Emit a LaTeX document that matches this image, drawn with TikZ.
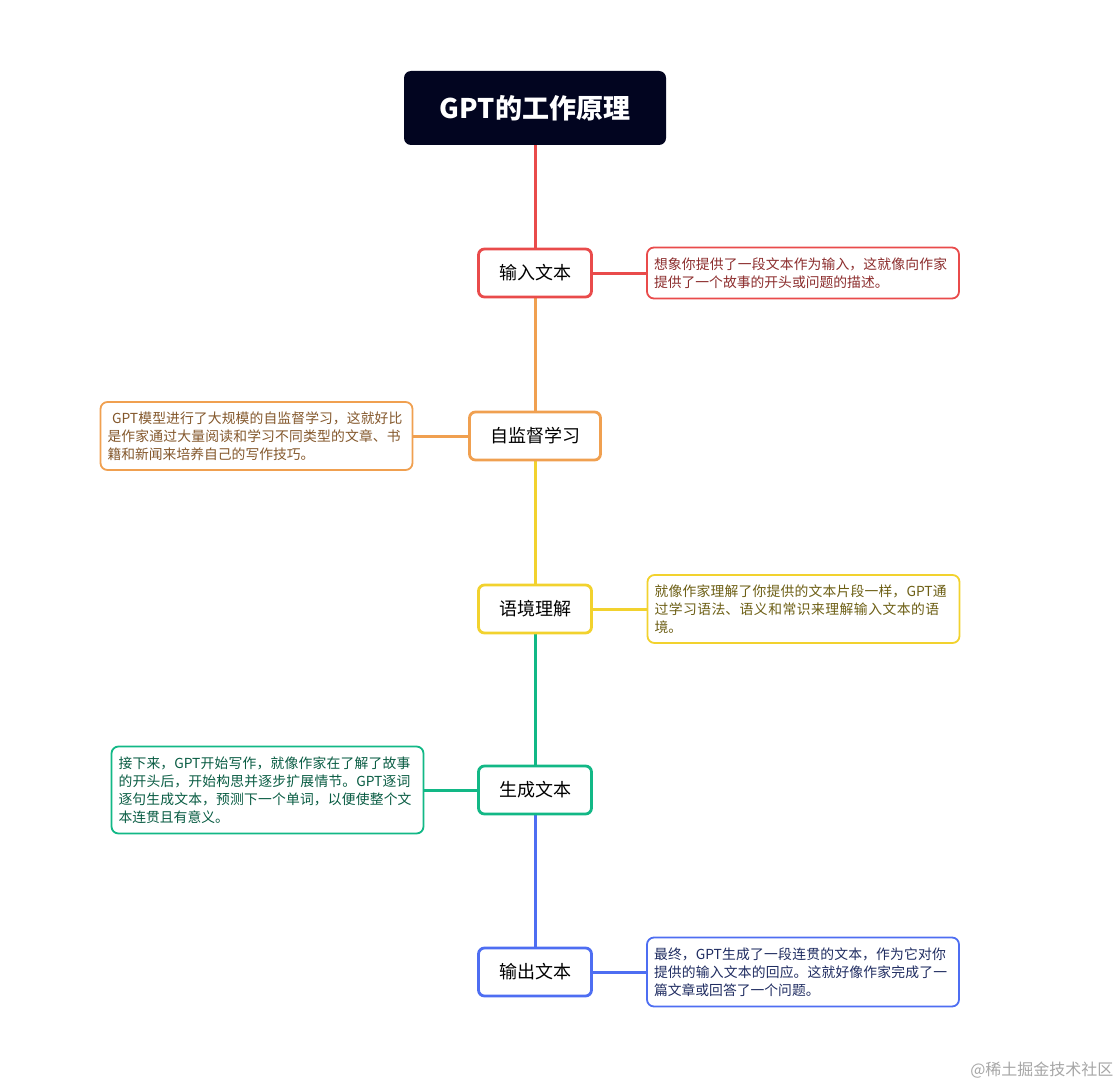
\documentclass[tikz,border=0pt]{standalone}
\usepackage{fontspec}
\setmainfont{Noto Sans CJK SC}
\XeTeXlinebreaklocale "zh"
\XeTeXlinebreakskip=0pt plus 1pt
\usetikzlibrary{backgrounds}
\begin{document}
\begin{tikzpicture}[x=1pt,y=-1pt,
 main/.style={draw=#1,line width=2.8pt,rounded corners=6pt,fill=white,minimum height=48pt,font=\fontsize{18}{20}\selectfont,text=black,inner sep=0pt},
 side/.style={draw=#1,line width=1.8pt,rounded corners=7pt,fill=white,font=\fontsize{13.8}{18}\selectfont,align=left,inner xsep=7pt,inner ysep=0pt,text width=298pt},
 ln/.style={draw=#1,line width=3pt}]
\definecolor{cr}{HTML}{E94B4B}\definecolor{co}{HTML}{F0A050}\definecolor{cy}{HTML}{F2D22E}
\definecolor{cg}{HTML}{12B886}\definecolor{cb}{HTML}{4E6EF2}\definecolor{navy}{HTML}{020520}
\useasboundingbox (0,0) rectangle (1119,1086);
\node[fill=navy,rounded corners=7pt,minimum width=262pt,minimum height=74pt,text=white,font=\fontsize{27}{30}\selectfont\bfseries] (t) at (535,108) {GPT的工作原理};
\node[main=cr,minimum width=113pt] (a) at (535,273) {输入文本};
\node[main=co,minimum width=131pt] (b) at (535,436) {自监督学习};
\node[main=cy,minimum width=113pt] (c) at (535,609) {语境理解};
\node[main=cg,minimum width=113pt] (d) at (535,790) {生成文本};
\node[main=cb,minimum width=113pt] (e) at (535,972) {输出文本};
\node[side=cr,minimum height=51pt,text=cr!60!black] (sa) at (803,273) {想象你提供了一段文本作为输入，这就像向作家提供了一个故事的开头或问题的描述。};
\node[side=co,minimum height=68pt,text=co!55!black] (sb) at (256.5,436) {\ GPT模型进行了大规模的自监督学习，这就好比是作家通过大量阅读和学习不同类型的文章、书籍和新闻来培养自己的写作技巧。};
\node[side=cy,minimum height=68pt,text=cy!45!black] (sc) at (803.5,609) {就像作家理解了你提供的文本片段一样，GPT通过学习语法、语义和常识来理解输入文本的语境。};
\node[side=cg,minimum height=87pt,text=cg!50!black] (sd) at (267.5,790) {接下来，GPT开始写作，就像作家在了解了故事的开头后，开始构思并逐步扩展情节。GPT逐词逐句生成文本，预测下一个单词，以便使整个文本连贯且有意义。};
\node[side=cb,minimum height=69pt,text=cb!40!black] (se) at (803,972) {最终，GPT生成了一段连贯的文本，作为它对你提供的输入文本的回应。这就好像作家完成了一篇文章或回答了一个问题。};
\begin{scope}[on background layer]
\path[ln=cr] (t.south) -- (a.north);
\path[ln=co] (a.south) -- (b.north);
\path[ln=cy] (b.south) -- (c.north);
\path[ln=cg] (c.south) -- (d.north);
\path[ln=cb] (d.south) -- (e.north);
\path[ln=cr] (a.east) -- (sa.west);
\path[ln=co] (b.west) -- (sb.east);
\path[ln=cy] (c.east) -- (sc.west);
\path[ln=cg] (d.west) -- (sd.east);
\path[ln=cb] (e.east) -- (se.west);
\end{scope}
\node[text=black!35,font=\fontsize{16}{18}\selectfont,anchor=east] (wm) at (1117,1070) {@稀土掘金技术社区};
\end{tikzpicture}
\end{document}
